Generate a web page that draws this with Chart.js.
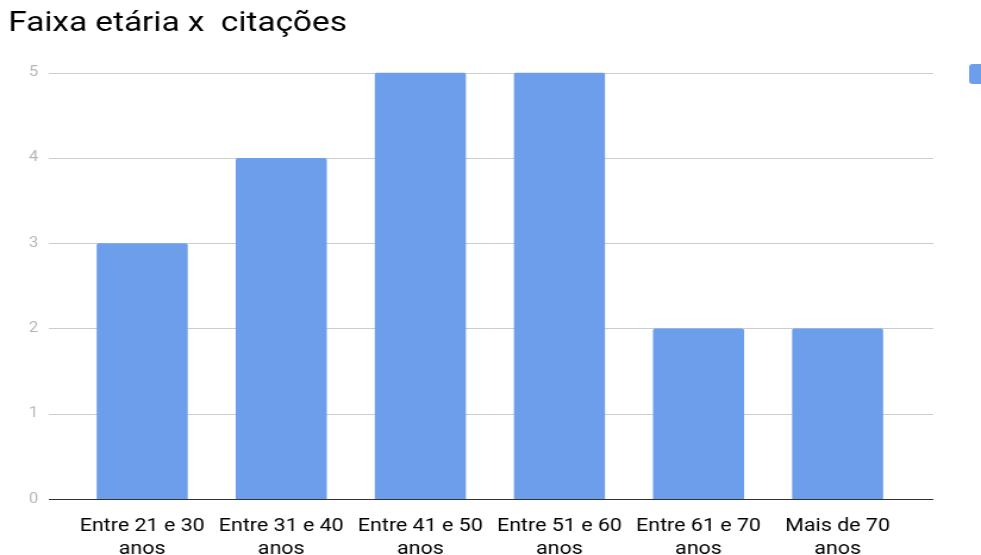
<!DOCTYPE html>
<html>
<head>
<meta charset="utf-8">
<script src="https://cdn.jsdelivr.net/npm/chart.js@4"></script>
<style>
  html, body { margin: 0; padding: 0; background: #fff; overflow: hidden; }
  /* o gráfico é desenhado mais estreito e esticado na horizontal */
  #wrap {
    width: 824px;
    height: 555px;
    transform: scaleX(1.1905);
    transform-origin: 0 0;
  }
</style>
</head>
<body>
<div id="wrap"><canvas id="grafico"></canvas></div>
<script>
// Dados do gráfico
const faixas = [
    ['Entre 21 e 30', 'anos'],
    ['Entre 31 e 40', 'anos'],
    ['Entre 41 e 50', 'anos'],
    ['Entre 51 e 60', 'anos'],
    ['Entre 61 e 70', 'anos'],
    ['Mais de 70', 'anos']
];
const citacoes = [3, 4, 5, 5, 2, 2];
const ticksY = [0, 1, 2, 3, 4, 5];

const corBarra = '#6d9eeb';

/**
 * Linhas de grade e eixo estendidos além da área das categorias
 */
const gradeEstendida = {
    id: 'gradeEstendida',
    beforeDatasetsDraw(chart) {
        const ctx = chart.ctx;
        const y = chart.scales.y;
        const esq = chart.chartArea.left - 20;
        const dir = chart.chartArea.right + 22;
        ctx.save();
        ticksY.forEach(function(v) {
            const py = Math.round(y.getPixelForValue(v)) + 0.5;
            ctx.strokeStyle = v === 0 ? '#333333' : '#cccccc';
            ctx.lineWidth = v === 0 ? 1.2 : 1;
            ctx.beginPath();
            ctx.moveTo(esq, py);
            ctx.lineTo(dir, py);
            ctx.stroke();
        });
        ctx.restore();
    },
    afterDraw(chart) {
        // Marcador da legenda (cortado na borda direita)
        const ctx = chart.ctx;
        ctx.save();
        ctx.fillStyle = chart.data.datasets[0].backgroundColor;
        ctx.beginPath();
        ctx.roundRect(chart.chartArea.right + 52, 64, 18, 20, 3);
        ctx.fill();
        ctx.restore();
    }
};

new Chart(document.getElementById('grafico'), {
    type: 'bar',
    data: {
        labels: faixas,
        datasets: [{
            label: 'Citações',
            data: citacoes,
            backgroundColor: corBarra,
            borderRadius: { topLeft: 2, topRight: 2 },
            borderSkipped: 'bottom',
            barPercentage: 0.655,
            categoryPercentage: 1
        }]
    },
    options: {
        responsive: true,
        maintainAspectRatio: false,
        animation: false,
        layout: { padding: { left: 7, right: 62, top: 0, bottom: 0 } },
        plugins: {
            legend: { display: false },
            tooltip: { enabled: false },
            title: {
                display: true,
                text: 'Faixa etária x  citações',
                align: 'start',
                color: '#000000',
                font: { family: 'Roboto', size: 28, weight: 'normal', lineHeight: 1.2 },
                padding: { top: 7, bottom: 32 }
            }
        },
        scales: {
            x: {
                grid: { display: false },
                border: { display: false },
                ticks: {
                    color: '#000000',
                    font: { family: 'Roboto', size: 18, lineHeight: 1.27 },
                    padding: 8,
                    maxRotation: 0,
                    autoSkip: false
                },
                afterFit(s) { s.height = 56; }
            },
            y: {
                min: 0,
                max: 5,
                grid: { display: false, drawTicks: false },
                border: { display: false },
                afterBuildTicks(s) { s.ticks = ticksY.map(v => ({ value: v })); },
                ticks: {
                    color: '#b7b7b7',
                    font: { family: 'Roboto', size: 14 },
                    padding: 29
                },
                afterFit(s) { s.width = 54; }
            }
        }
    },
    plugins: [gradeEstendida]
});
</script>
</body>
</html>
